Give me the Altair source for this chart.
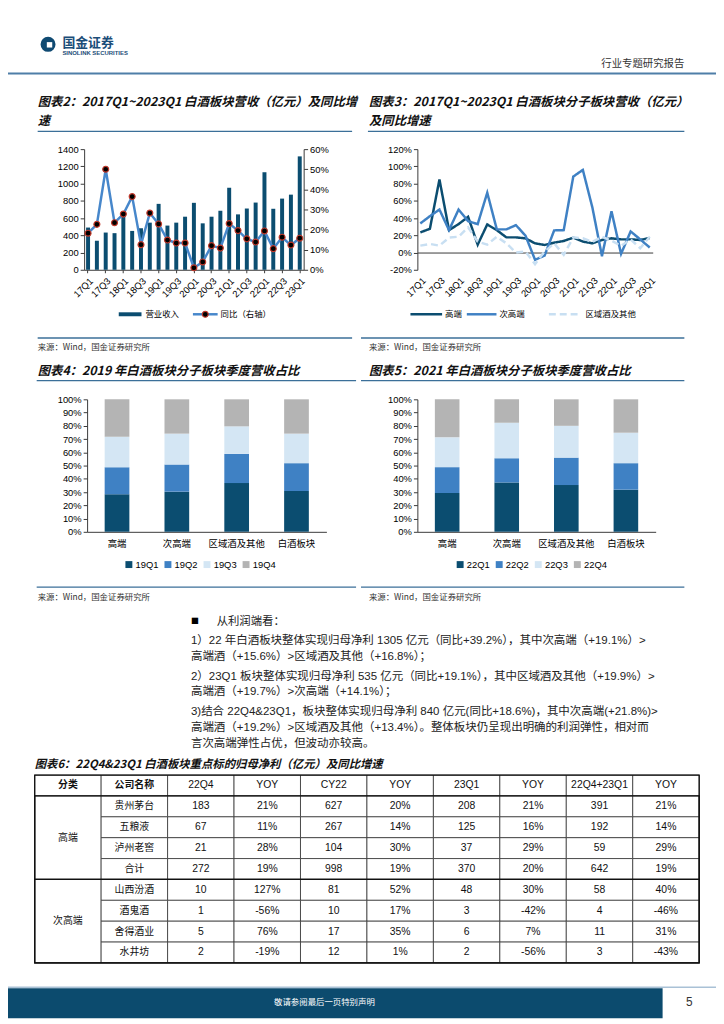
import altair as alt
import pandas as pd

# ---------------- data ----------------
quarters = ["17Q1", "17Q2", "17Q3", "17Q4", "18Q1", "18Q2", "18Q3", "18Q4",
            "19Q1", "19Q2", "19Q3", "19Q4", "20Q1", "20Q2", "20Q3", "20Q4",
            "21Q1", "21Q2", "21Q3", "21Q4", "22Q1", "22Q2", "22Q3", "22Q4", "23Q1"]
quarter_ticks = ["17Q1", "17Q3", "18Q1", "18Q3", "19Q1", "19Q3", "20Q1",
                 "20Q3", "21Q1", "21Q3", "22Q1", "22Q3", "23Q1"]

revenue = [490, 337, 432, 425, 635, 451, 482, 547, 765, 513, 547, 616, 777,
           539, 616, 685, 952, 643, 711, 780, 1132, 708, 826, 872, 1316]
revenue_yoy = [18.2, 22.6, 50.0, 23.4, 27.7, 36.4, 12.5, 28.2, 22.8, 14.8, 13.3,
               13.3, 1.0, 3.9, 12.0, 10.8, 23.0, 19.5, 15.4, 13.8, 19.3, 10.5,
               16.2, 12.3, 15.7]
rev_ticks = [0, 200, 400, 600, 800, 1000, 1200, 1400]
yoy_ticks = [0, 10, 20, 30, 40, 50, 60]

seg_names = ["高端", "次高端", "区域酒及其他"]
seg_high = [23.4, 27.6, 84.8, 26.0, 33.0, 41.4, 9.2, 32.6, 26.0, 17.6, 17.6, 16.5,
            10.7, 8.8, 11.5, 13.4, 17.3, 12.7, 10.7, 14.6, 16.5, 15.3, 15.3, 14.6, 16.9]
seg_sub = [33.8, 42.2, 49.9, 26.0, 49.9, 36.4, 33.0, 69.4, 26.9, 26.9, 31.8, 19.6,
           -8.4, -3.5, 25.7, 26.0, 88.2, 95.9, 52.2, -4.2, 47.9, -1.5, 24.5, 15.3, 5.8]
seg_reg = [8.0, 10.0, 8.0, 17.3, 18.4, 29.2, 12.7, 9.2, 18.4, 10.7, 0.0, 1.2,
           -13.4, 1.2, 10.7, -2.7, 17.6, 16.5, 12.3, 18.4, 13.8, 7.7, 15.3, 5.0, 18.4]
seg_ticks = [-20, 0, 20, 40, 60, 80, 100, 120]

share_cats = ["高端", "次高端", "区域酒及其他", "白酒板块"]
q19 = ["19Q1", "19Q2", "19Q3", "19Q4"]
s19_q1 = [28.3, 30.3, 36.8, 30.8]
s19_q2 = [20.5, 20.5, 22.0, 21.0]
s19_q3 = [23.0, 23.3, 20.8, 22.3]
s19_q4 = [28.2, 25.9, 20.4, 25.9]
q22 = ["22Q1", "22Q2", "22Q3", "22Q4"]
s22_q1 = [29.3, 37.3, 35.3, 31.8]
s22_q2 = [19.5, 18.2, 20.7, 20.0]
s22_q3 = [22.5, 26.8, 24.0, 23.0]
s22_q4 = [28.7, 17.7, 20.0, 25.2]
share_ticks = [0, 0.1, 0.2, 0.3, 0.4, 0.5, 0.6, 0.7, 0.8, 0.9, 1.0]

table_header = ["分类", "公司名称", "22Q4", "YOY", "CY22", "YOY", "23Q1", "YOY", "22Q4+23Q1", "YOY"]
tiers = ["高端", "次高端"]
companies = ["贵州茅台", "五粮液", "泸州老窖", "合计", "山西汾酒", "酒鬼酒", "舍得酒业", "水井坊"]
np_22q4 = [183, 67, 21, 272, 10, 1, 5, 2]
yoy_22q4 = [21, 11, 28, 19, 127, -56, 76, -19]
np_cy22 = [627, 267, 104, 998, 81, 10, 17, 12]
yoy_cy22 = [20, 14, 30, 19, 52, 17, 35, 1]
np_23q1 = [208, 125, 37, 370, 48, 3, 6, 2]
yoy_23q1 = [21, 16, 29, 20, 30, -42, 7, -56]
np_sum = [391, 192, 59, 642, 58, 4, 11, 3]
yoy_sum = [21, 14, 29, 19, 40, -46, 31, -43]

body_lines = [
    "1）22 年白酒板块整体实现归母净利 1305 亿元（同比+39.2%），其中次高端（+19.1%）>",
    "高端酒（+15.6%）>区域酒及其他（+16.8%）；",
    "2）23Q1 板块整体实现归母净利 535 亿元（同比+19.1%），其中区域酒及其他（+19.9%）>",
    "高端酒（+19.7%）>次高端（+14.1%）；",
    "3)结合 22Q4&23Q1，板块整体实现归母净利 840 亿元(同比+18.6%)，其中次高端(+21.8%)>",
    "高端酒（+19.2%）>区域酒及其他（+13.4%）。整体板块仍呈现出明确的利润弹性，相对而",
    "言次高端弹性占优，但波动亦较高。",
]

# ---------------- style ----------------
W, H = 716, 1016
CJK = "Noto Sans CJK SC"
SANS = "Liberation Sans"
NARROW = "Liberation Sans Narrow, Liberation Sans"
MIX = "Liberation Sans, Noto Sans CJK SC"
NAVY = "#0b4d70"
MID = "#3f81c4"
LIGHT = "#d4e6f4"
GREY = "#b4b4b4"
REG = "#c8dff2"
LINE_BLUE = "#4787cb"
RED = "#c0392b"
RULE = "#3b6f99"
AXIS = "#3a3a3a"

ONE = pd.DataFrame({"k": [0]})


def txt(x, y, s, size=10, font=CJK, color="#000", align="left", weight="normal", style="normal"):
    return alt.Chart(ONE).mark_text(
        align=align, baseline="middle", font=font, fontSize=size, color=color,
        fontWeight=weight, fontStyle=style
    ).encode(x=alt.value(x), y=alt.value(y), text=alt.value(s))


def hline(x1, x2, y, color, width, dash=None):
    kw = {"color": color, "strokeWidth": width}
    if dash:
        kw["strokeDash"] = dash
    return alt.Chart(ONE).mark_rule(**kw).encode(x=alt.value(x1), x2=alt.value(x2), y=alt.value(y))


def box(x1, x2, y1, y2, color):
    return alt.Chart(ONE).mark_rect(color=color).encode(
        x=alt.value(x1), x2=alt.value(x2), y=alt.value(y1), y2=alt.value(y2))


def dot(x, y, size, fill, shape="circle", stroke=None, sw=0):
    kw = {"filled": True, "fill": fill, "shape": shape, "size": size, "opacity": 1, "strokeWidth": sw}
    if stroke:
        kw["stroke"] = stroke
    return alt.Chart(ONE).mark_point(**kw).encode(x=alt.value(x), y=alt.value(y))


def title(x, y, s):
    return txt(x, y, s, size=12.5, weight="bold", style="italic", color="#111")


layers = []

# ---------------- header ----------------
layers += [
    dot(40.5, 31, 230, "#0f4a72"),
    dot(42, 31.5, 30, "white", shape="square"),
    txt(55, 30, "国金证券", 13, weight="bold", color="#1b4d78"),
    txt(55, 40, "SINOLINK SECURITIES", 6, font=SANS, weight="bold", color="#1b4d78"),
    txt(684, 51, "行业专题研究报告", 10.5, color="#333", align="right"),
    hline(0, W, 60.5, "#4f7ea8", 2),
]

# ---------------- chart 2 ----------------
df_rev = pd.DataFrame({"quarter": quarters, "revenue": revenue, "yoy": revenue_yoy})
x_rev = alt.X("quarter:N", sort=quarters, title=None,
              scale=alt.Scale(range=[77, 299], paddingInner=0.55, paddingOuter=0.22),
              axis=alt.Axis(orient="bottom", offset=259 - H, values=quarter_ticks, labelAngle=-45,
                            labelOverlap=False, tickSize=3, labelPadding=3))
bars2 = alt.Chart(df_rev).mark_bar(color=NAVY).encode(
    x=x_rev,
    y=alt.Y("revenue:Q", title=None,
            scale=alt.Scale(domain=[0, 1400], range=[259, 137], nice=False),
            axis=alt.Axis(orient="left", offset=-77, values=rev_ticks, format="d",
                          labelOverlap=False)))
y_yoy = alt.Y("yoy:Q", title=None,
              scale=alt.Scale(domain=[0, 60], range=[259, 137], nice=False),
              axis=alt.Axis(orient="right", offset=299 - W, values=yoy_ticks,
                            labelExpr="datum.value + '%'", labelOverlap=False))
line2 = alt.Chart(df_rev).mark_line(color=LINE_BLUE, strokeWidth=2.5).encode(x=x_rev, y=y_yoy)
pts2 = alt.Chart(df_rev).mark_point(filled=True, fill="#000", stroke=RED, strokeWidth=1.2,
                                     size=36, opacity=1).encode(x=x_rev, y=y_yoy)
chart2 = alt.layer(bars2, alt.layer(line2, pts2)).resolve_scale(y="independent")
layers += [
    title(30, 89, "图表2：2017Q1~2023Q1 白酒板块营收（亿元）及同比增"),
    title(30, 109, "速"),
    hline(30, 348, 119, RULE, 1.3),
    chart2,
    box(112, 135, 302, 306, NAVY),
    txt(139, 304, "营业收入", 8.5),
    hline(187, 212, 304, LINE_BLUE, 2.5),
    dot(199.5, 304, 36, "#000", stroke=RED, sw=1.2),
    txt(215, 304, "同比（右轴）", 8.5),
    hline(30, 348, 328, RULE, 1.3),
    txt(30, 337, "来源：Wind，国金证券研究所", 8.5, color="#333"),
]

# ---------------- chart 3 ----------------
seg_df = pd.DataFrame({
    "quarter": quarters * 3,
    "segment": [seg_names[0]] * 25 + [seg_names[1]] * 25 + [seg_names[2]] * 25,
    "growth": seg_high + seg_sub + seg_reg,
})
zero3 = 259 - 20 / 140 * 122
lines3 = alt.Chart(seg_df).mark_line(strokeWidth=2.5).encode(
    x=alt.X("quarter:N", sort=quarters, title=None,
            scale=alt.Scale(type="point", range=[414, 652], padding=0.31),
            axis=alt.Axis(orient="bottom", offset=zero3 - H, values=quarter_ticks, labelAngle=-45,
                          ticks=False, tickSize=0, labelPadding=23, labelOverlap=False)),
    y=alt.Y("growth:Q", title=None,
            scale=alt.Scale(domain=[-20, 120], range=[259, 137], nice=False, zero=False),
            axis=alt.Axis(orient="left", offset=-414, values=seg_ticks,
                          labelExpr="datum.value + '%'", labelOverlap=False)),
    color=alt.Color("segment:N", scale=alt.Scale(domain=seg_names, range=[NAVY, MID, REG]), legend=None),
    strokeDash=alt.StrokeDash("segment:N", scale=alt.Scale(domain=seg_names, range=[[1, 0], [1, 0], [7, 4]]),
                              legend=None),
)
layers += [
    title(365, 89, "图表3：2017Q1~2023Q1 白酒板块分子板块营收（亿元）"),
    title(365, 109, "及同比增速"),
    hline(364, 684, 119, RULE, 1.3),
    lines3,
    hline(407, 439, 304, NAVY, 2.5),
    txt(442, 304, "高端", 8.5),
    hline(464, 494, 304, MID, 2.5),
    txt(497, 304, "次高端", 8.5),
    hline(547, 579, 304, REG, 2.5, dash=[7, 4]),
    txt(584, 304, "区域酒及其他", 8.5),
    hline(357, 684, 328, RULE, 1.3),
    txt(365, 337, "来源：Wind，国金证券研究所", 8.5, color="#333"),
]


# ---------------- charts 4 & 5 ----------------
def share_chart(qnames, v1, v2, v3, v4, x0, x1, legend_x):
    df = pd.DataFrame({
        "cat": share_cats * 4,
        "quarter": [q for q in qnames for _ in share_cats],
        "share": v1 + v2 + v3 + v4,
    })
    return alt.Chart(df).mark_bar().encode(
        x=alt.X("cat:N", sort=share_cats, title=None,
                scale=alt.Scale(range=[x0, x1], paddingInner=0.587, paddingOuter=0.2935),
                axis=alt.Axis(orient="bottom", offset=524 - H, labelAngle=0, ticks=False, tickSize=0,
                              labelPadding=7, labelFont=CJK, labelFontSize=9.5)),
        y=alt.Y("share:Q", stack="normalize", title=None,
                scale=alt.Scale(domain=[0, 1], range=[524, 390], nice=False),
                axis=alt.Axis(orient="left", offset=-x0, format=".0%", values=share_ticks,
                              labelOverlap=False)),
        color=alt.Color("quarter:N", scale=alt.Scale(domain=qnames, range=[NAVY, MID, LIGHT, GREY]),
                        legend=alt.Legend(orient="none", legendX=legend_x, legendY=552,
                                          direction="horizontal", title=None, symbolType="square",
                                          symbolSize=49, symbolStrokeWidth=0, labelFont=SANS,
                                          labelFontSize=9.5, labelOffset=2, columnPadding=4.5,
                                          padding=0)),
        order=alt.Order("quarter:N", sort="ascending"),
    )


layers += [
    title(30, 361, "图表4：2019 年白酒板块分子板块季度营收占比"),
    hline(29, 352, 371, RULE, 1.3),
    share_chart(q19, s19_q1, s19_q2, s19_q3, s19_q4, 80, 322, 117.5),
    hline(29, 352, 580, RULE, 1.3),
    txt(30, 590, "来源：Wind，国金证券研究所", 8.5, color="#333"),
    title(365, 361, "图表5：2021 年白酒板块分子板块季度营收占比"),
    hline(357, 684, 371, RULE, 1.3),
    share_chart(q22, s22_q1, s22_q2, s22_q3, s22_q4, 414, 655, 452.5),
    hline(357, 684, 580, RULE, 1.3),
    txt(365, 590, "来源：Wind，国金证券研究所", 8.5, color="#333"),
]

# ---------------- text block ----------------
layers += [
    txt(185, 615, "■", 8),
    txt(211, 615, "从利润端看：", 11.5, font=MIX, color="#222"),
]
for s, y in zip(body_lines, [634, 651, 670.5, 686.5, 706.5, 722.5, 739]):
    layers.append(txt(185, y, s, 11.6, font=MIX, color="#222"))

# ---------------- table ----------------
cells = []
for c, h in enumerate(table_header):
    cells.append(dict(c0=c, c1=c + 1, r0=0, r1=1, label=h, kind="hcjk" if c < 2 else "hnum"))
cells.append(dict(c0=0, c1=1, r0=1, r1=5, label=tiers[0], kind="cjk"))
cells.append(dict(c0=0, c1=1, r0=5, r1=9, label=tiers[1], kind="cjk"))
for i, name in enumerate(companies):
    r = i + 1
    cells.append(dict(c0=1, c1=2, r0=r, r1=r + 1, label=name, kind="cjk"))
    vals = [str(np_22q4[i]), f"{yoy_22q4[i]}%", str(np_cy22[i]), f"{yoy_cy22[i]}%",
            str(np_23q1[i]), f"{yoy_23q1[i]}%", str(np_sum[i]), f"{yoy_sum[i]}%"]
    for j, v in enumerate(vals):
        cells.append(dict(c0=2 + j, c1=3 + j, r0=r, r1=r + 1, label=v, kind="num"))
tab = pd.DataFrame(cells)
tab["cx"] = (tab["c0"] + tab["c1"]) / 2
tab["cy"] = (tab["r0"] + tab["r1"]) / 2
groups_df = pd.DataFrame({"c0": [0, 0, 0], "c1": [10, 10, 10], "r0": [0, 1, 5], "r1": [9, 5, 9]})

tsx = alt.Scale(domain=[0, 10], range=[27, 699], nice=False, zero=False)
tsy = alt.Scale(domain=[0, 9], range=[770, 960], nice=False, zero=False)
t_rects = alt.Chart(tab).mark_rect(fill="white", stroke="#333", strokeWidth=0.8).encode(
    x=alt.X("c0:Q", scale=tsx, axis=None), x2="c1:Q",
    y=alt.Y("r0:Q", scale=tsy, axis=None), y2="r1:Q")
t_groups = alt.Chart(groups_df).mark_rect(fillOpacity=0, stroke="#111", strokeWidth=1.3).encode(
    x=alt.X("c0:Q", scale=tsx, axis=None), x2="c1:Q",
    y=alt.Y("r0:Q", scale=tsy, axis=None), y2="r1:Q")


def tab_text(kind, font, size, weight="normal"):
    return alt.Chart(tab).transform_filter(alt.datum.kind == kind).mark_text(
        font=font, fontSize=size, fontWeight=weight, color="#111", baseline="middle", align="center"
    ).encode(x=alt.X("cx:Q", scale=tsx, axis=None), y=alt.Y("cy:Q", scale=tsy, axis=None),
             text="label:N")


table = alt.layer(t_rects, t_groups,
                  tab_text("hcjk", CJK, 10, "bold"),
                  tab_text("hnum", NARROW, 10.5),
                  tab_text("cjk", CJK, 10),
                  tab_text("num", NARROW, 10.5))
layers += [
    txt(27, 760, "图表6：22Q4&23Q1 白酒板块重点标的归母净利（亿元）及同比增速", 11.5,
        weight="bold", style="italic", color="#111"),
    table,
]

# ---------------- footer ----------------
layers += [
    hline(0, W, 984.5, "#a9c1d6", 1.5),
    box(0, 662, 985.5, 1016, "#0c4b6e"),
    txt(320, 1000, "敬请参阅最后一页特别声明", 8.5, color="white", align="center"),
    txt(689, 1000, "5", 12, font=SANS, color="#333", align="center"),
]

chart = alt.layer(*layers).resolve_scale(
    x="independent", y="independent", color="independent", strokeDash="independent"
).properties(
    width=W, height=H, autosize=alt.AutoSizeParams(type="none"), padding=0
).configure_view(strokeWidth=0).configure_axis(
    grid=False, labelFont=SANS, labelFontSize=9.5, labelColor="#000",
    domainColor=AXIS, tickColor=AXIS, tickSize=4, domainWidth=1, tickWidth=1
)

chart.save("out.html", embed_options={"renderer": "svg", "actions": False})
